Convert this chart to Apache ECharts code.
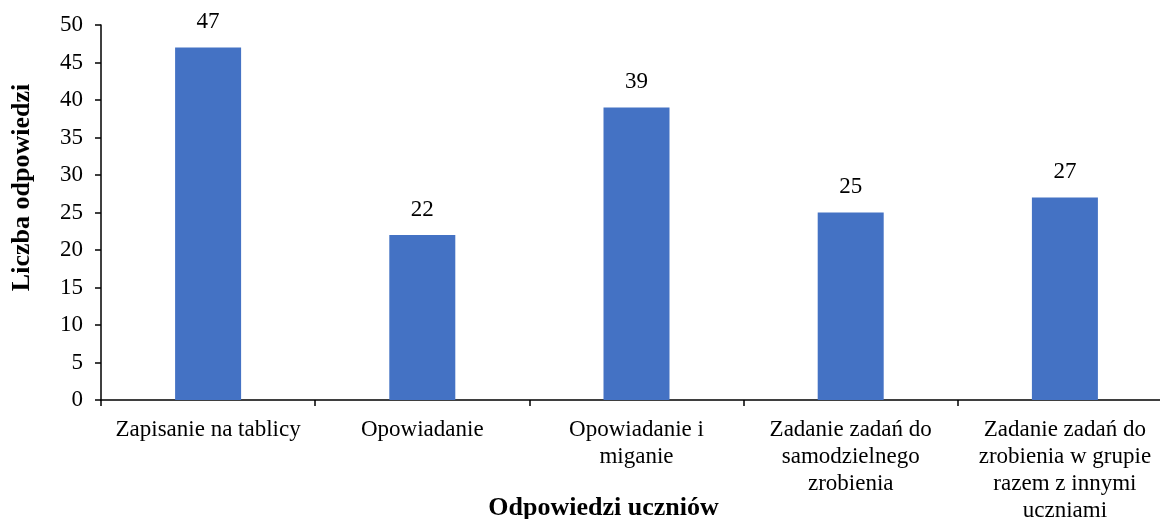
<!DOCTYPE html>
<html>
<head>
<meta charset="utf-8">
<script src="https://cdn.jsdelivr.net/npm/echarts@6/dist/echarts.min.js"></script>
<style>
  html, body { margin: 0; padding: 0; background: #fff; }
  #chart { width: 1160px; height: 519px; }
</style>
</head>
<body>
<div id="chart"></div>
<script>
// dane wykresu
const categories = [
  'Zapisanie na tablicy',
  'Opowiadanie',
  'Opowiadanie i\nmiganie',
  'Zadanie zadań do\nsamodzielnego\nzrobienia',
  'Zadanie zadań do\nzrobienia w grupie\nrazem z innymi\nuczniami'
];
const values = [47, 22, 39, 25, 27];
const yMin = 0, yMax = 50, yStep = 5;

const font = '"Liberation Serif", "Times New Roman", serif';
const chart = echarts.init(document.getElementById('chart'));

chart.setOption({
  animation: false,
  grid: { left: 101, right: -12, top: 25, bottom: 119, containLabel: false, outerBoundsMode: 'none' },
  xAxis: {
    type: 'category',
    data: categories,
    name: 'Odpowiedzi uczniów',
    nameLocation: 'middle',
    nameGap: 95,
    nameMoveOverlap: false,
    nameTextStyle: { fontFamily: font, fontSize: 26, fontWeight: 'bold', color: '#000', padding: [0, 66, 0, 0] },
    axisLine: { lineStyle: { color: '#000', width: 1.5 } },
    axisTick: { show: true, length: 6, alignWithLabel: false, lineStyle: { color: '#000', width: 1.5 } },
    axisLabel: { fontFamily: font, fontSize: 23, color: '#000', lineHeight: 27, margin: 16, interval: 0 }
  },
  yAxis: {
    type: 'value',
    min: yMin, max: yMax, interval: yStep,
    name: 'Liczba odpowiedzi',
    nameLocation: 'middle',
    nameGap: 66,
    nameMoveOverlap: false,
    nameTextStyle: { fontFamily: font, fontSize: 26, fontWeight: 'bold', color: '#000', padding: [0, 0, 0, 50] },
    axisLine: { show: true, lineStyle: { color: '#000', width: 1.5 } },
    axisTick: { show: true, length: 6, lineStyle: { color: '#000', width: 1.5 } },
    axisLabel: { fontFamily: font, fontSize: 23, color: '#000', margin: 18 },
    splitLine: { show: false }
  },
  series: [{
    type: 'bar',
    data: values,
    barWidth: 66,
    itemStyle: { color: '#4472C4' },
    label: { show: true, position: 'top', distance: 14, fontFamily: font, fontSize: 23, color: '#000' }
  }]
});
</script>
</body>
</html>
